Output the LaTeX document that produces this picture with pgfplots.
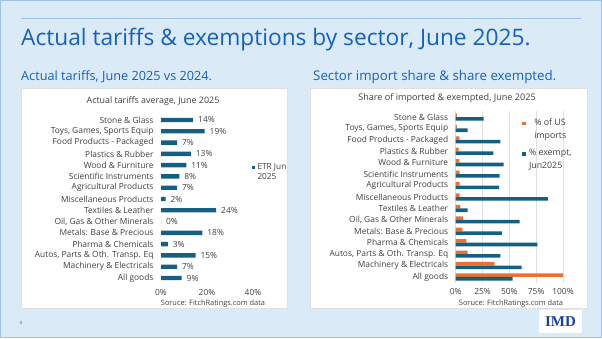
\documentclass[border=0pt]{standalone}
\usepackage{pgfplots}
\pgfplotsset{compat=1.18}
\usepackage{fontspec}
\setmainfont{Open Sans}
\newfontfamily\logofont{Liberation Serif}
\definecolor{slidebg}{HTML}{DAEAF7}
\definecolor{slideborder}{HTML}{9DC3E6}
\definecolor{titleblue}{HTML}{1561BE}
\definecolor{barblue}{HTML}{156082}
\definecolor{barorange}{HTML}{E97132}
\definecolor{txt}{HTML}{404040}
\definecolor{logoblue}{HTML}{1A3FA6}
\pgfplotsset{
  sectorlabels/.style={
    ytick={0,...,14},
    yticklabels={All goods,Machinery \& Electricals,{Autos, Parts \& Oth. Transp. Eq},Pharma \& Chemicals,Metals: Base \& Precious,{Oil, Gas \& Other Minerals},Textiles \& Leather,Miscellaneous Products,Agricultural Products,Scientific Instruments,Wood \& Furniture,Plastics \& Rubber,Food Products - Packaged,{Toys, Games, Sports Equip},Stone \& Glass},
    ymin=-0.5, ymax=14.5,
    scale only axis,
    axis line style={draw=none},
    major tick length=0pt,
    tick label style={font=\fontsize{8.4}{9}\selectfont, text=txt},
    yticklabel style={xshift=-4pt},
    xticklabel={\pgfmathprintnumber{\tick}\%},
    xticklabel style={yshift=-2.5pt},
    /pgf/number format/assume math mode=true,
    clip=false,
  }
}
\begin{document}
\begin{tikzpicture}
\useasboundingbox (0pt,0pt) rectangle (602pt,338pt);
\fill[slidebg] (0pt,0pt) rectangle (602pt,338pt);
\draw[slideborder, line width=1.2pt] (0.6pt,0.6pt) rectangle (601.4pt,337.4pt);
\draw[slideborder, line width=0.8pt] (21pt,320pt) -- (581pt,320pt);
\node[anchor=base west, inner sep=0, text=titleblue, font=\fontsize{22.7}{26}\selectfont] at (21pt,292pt) {Actual tariffs \& exemptions by sector, June 2025.};
\node[anchor=base west, inner sep=0, text=titleblue, font=\fontsize{12.7}{14}\selectfont] at (21pt,258pt) {Actual tariffs, June 2025 vs 2024.};
\node[anchor=base west, inner sep=0, text=titleblue, font=\fontsize{13.3}{15}\selectfont] at (313pt,257pt) {Sector import share \& share exempted.};
% panels
\fill[white, draw=black!12] (21pt,30pt) rectangle (287pt,250pt);
\fill[white, draw=black!12] (310pt,30pt) rectangle (587pt,250pt);
\node[text=txt, font=\fontsize{8.9}{10}\selectfont] at (153pt,237pt) {Actual tariffs average, June 2025};
\node[text=txt, font=\fontsize{9.1}{10}\selectfont] at (447pt,240pt) {Share of imported \& exempted, June 2025};
\node[text=txt, font=\fontsize{7.4}{8}\selectfont] at (213pt,34.5pt) {Soruce: FitchRatings.com data};
\node[text=txt, font=\fontsize{7.4}{8}\selectfont] at (511pt,34.5pt) {Soruce: FitchRatings.com data};
% left chart
\begin{axis}[
  sectorlabels,
  at={(161pt,54.35pt)}, anchor=south west,
  width=92pt, height=169.3pt,
  xmin=0, xmax=40, xtick={0,20,40},
  xbar, bar width=4.4pt,
  nodes near coords={\pgfmathprintnumber{\pgfplotspointmeta}\%},
  nodes near coords align={horizontal},
  point meta=explicit symbolic,
  nodes near coords style={font=\fontsize{8.4}{9}\selectfont, text=txt, anchor=west, xshift=1.5pt},
  legend style={at={(0.95,0.73)}, anchor=north west, draw=none, fill=none,
    font=\fontsize{8.3}{10.7}\selectfont, text=txt, column sep=1.5pt,
    nodes={align=left, inner sep=1pt}},
  legend image code/.code={\fill[barblue] (0pt,3.1pt) rectangle (3.4pt,6.5pt);},
]
\addplot[fill=barblue, draw=none] coordinates {
 (9,0) [9] (7,1) [7] (15,2) [15] (3,3) [3] (18,4) [18] (0,5) [0] (24,6) [24] (2,7) [2]
 (7,8) [7] (8,9) [8] (11,10) [11] (13,11) [13] (7,12) [7] (19,13) [19] (14,14) [14]};
\addlegendentry{ETR Jun\\2025}
\end{axis}
% right chart
\begin{axis}[
  sectorlabels,
  at={(455.7pt,55.3pt)}, anchor=south west,
  width=107.3pt, height=171.4pt,
  xmin=0, xmax=100, xtick={0,25,50,75,100},
  xmajorgrids, grid style={black!12, line width=0.5pt},
  xbar, bar width=3.6pt,
  legend style={at={(0.59,0.975)}, anchor=north west, draw=none, fill=none,
    font=\fontsize{8.8}{12.5}\selectfont, text=txt, column sep=2pt,
    nodes={align=left, inner sep=1pt}, row sep=8pt},
  legend image code/.code={\fill[#1] (0pt,3.8pt) rectangle (3.8pt,7.6pt);},
]
\addplot[fill=barorange, draw=none, bar shift=1.8pt] coordinates {
 (100,0) (36,1) (11,2) (10,3) (6.2,4) (6.8,5) (4.3,6) (3.7,7)
 (3.7,8) (3.7,9) (3.4,10) (2.8,11) (3.4,12) (1,13) (1,14)};
\addlegendentry{\% of US\\imports}
\addplot[fill=barblue, draw=none, bar shift=-1.8pt] coordinates {
 (53,0) (61.5,1) (41.6,2) (76,3) (43,4) (59.6,5) (11,6) (86,7)
 (40.4,8) (41,9) (44.7,10) (35,11) (41.6,12) (11,13) (26,14)};
\addlegendentry{\% exempt,\\Jun2025}
\end{axis}
% slide number and logo
\node[text=titleblue, font=\fontsize{4.5}{5}\selectfont] at (21pt,15pt) {4};
\fill[white] (539pt,5pt) rectangle (582pt,28pt);
\node[text=logoblue, font=\logofont\bfseries\fontsize{15}{16}\selectfont, inner sep=0] at (560.5pt,16.5pt) {IMD};
\end{tikzpicture}
\end{document}
